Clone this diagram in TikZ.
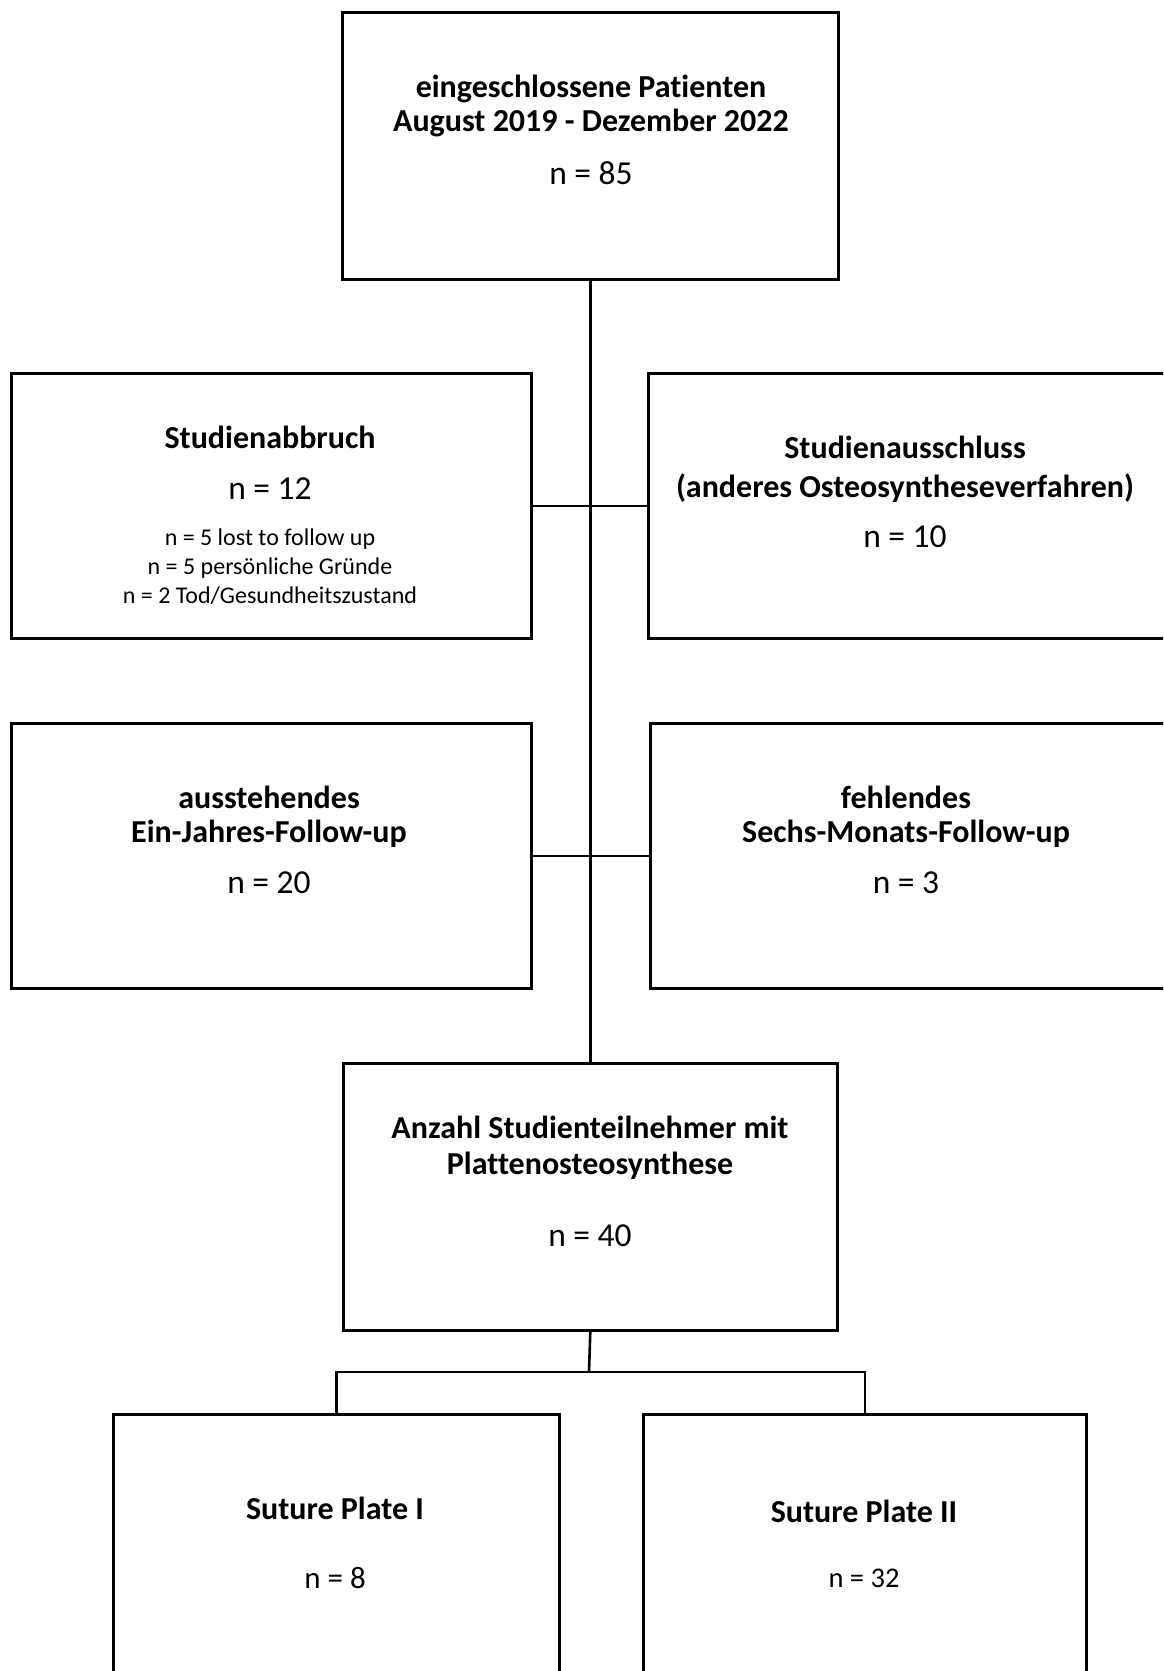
\documentclass[tikz,border=0pt]{standalone}
\usepackage{fontspec}
\setmainfont[Ligatures=NoCommon]{Carlito}
\begin{document}
\begin{tikzpicture}[x=1pt,y=-1pt,
  box/.style={draw=black, line width=2.6pt, rectangle, inner sep=0pt, anchor=north west, fill=none},
  conn/.style={draw=black, line width=2.6pt},
  ttl/.style={anchor=base, inner sep=0pt, font=\fontsize{32}{34}\selectfont\bfseries},
  num/.style={anchor=base, inner sep=0pt, font=\fontsize{33.5}{36}\selectfont},
  sml/.style={anchor=base, inner sep=0pt, font=\fontsize{24}{26}\selectfont}]
\useasboundingbox (0,0) rectangle (1163,1671);
\clip (0,0) rectangle (1163,1671);
\fill[white] (0,0) rectangle (1163,1671);
% boxes
\node[box, minimum width=496pt, minimum height=267pt] (top) at (341,11) {};
\node[box, minimum width=520pt, minimum height=265pt] (abb) at (10,372) {};
\node[box, minimum width=528pt, minimum height=265pt] (aus) at (647,372) {};
\node[box, minimum width=520pt, minimum height=265pt] (ein) at (10,722) {};
\node[box, minimum width=526pt, minimum height=265pt] (feh) at (649,722) {};
\node[box, minimum width=494pt, minimum height=267pt] (anz) at (342,1062) {};
\node[box, minimum width=446pt, minimum height=300pt] (sp1) at (112,1413) {};
\node[box, minimum width=443pt, minimum height=300pt] (sp2) at (642,1413) {};
% connectors
\draw[conn] (top.south) -- (top.south |- anz.north);
\draw[conn] (abb.east) -- (aus.west);
\draw[conn] (ein.east) -- (feh.west);
\coordinate (br) at (589,1372);
\draw[conn] (anz.south) -- (br);
\draw[conn] (sp1.north) -- (sp1.north |- br) -- (sp2.north |- br) -- (sp2.north);
% texts
\node[ttl] (t1) at (591,97) {eingeschlossene Patienten};
\node[ttl] (t2) at (591,131) {August 2019 - Dezember 2022};
\node[num] (t3) at (591,184) {n = 85};
\node[ttl] (a1) at (270,448) {Studienabbruch};
\node[num] (a2) at (270,499) {n = 12};
\node[sml] (a3) at (270,545.7) {n = 5 lost to follow up};
\node[sml] (a4) at (270,574) {n = 5 persönliche Gründe};
\node[sml] (a5) at (270,603) {n = 2 Tod/Gesundheitszustand};
\node[ttl] (b1) at (905,458) {Studienausschluss};
\node[ttl] (b2) at (905,497) {(anderes Osteosyntheseverfahren)};
\node[num] (b3) at (905,547) {n = 10};
\node[ttl] (c1) at (269,808) {ausstehendes};
\node[ttl] (c2) at (269,842) {Ein-Jahres-Follow-up};
\node[num] (c3) at (269,893) {n = 20};
\node[ttl] (d1) at (906,808) {fehlendes};
\node[ttl] (d2) at (906,842) {Sechs-Monats-Follow-up};
\node[num] (d3) at (906,893) {n = 3};
\node[ttl] (e1) at (590,1138) {Anzahl Studienteilnehmer mit};
\node[ttl] (e2) at (590,1174) {Plattenosteosynthese};
\node[num] (e3) at (590,1246) {n = 40};
\node[ttl] (f1) at (335,1519) {Suture Plate I};
\node[num, font=\fontsize{31}{33}\selectfont] (f2) at (335,1588) {n = 8};
\node[ttl] (g1) at (864,1522) {Suture Plate II};
\node[num, font=\fontsize{28.5}{30}\selectfont] (g2) at (864,1587) {n = 32};
\end{tikzpicture}
\end{document}
